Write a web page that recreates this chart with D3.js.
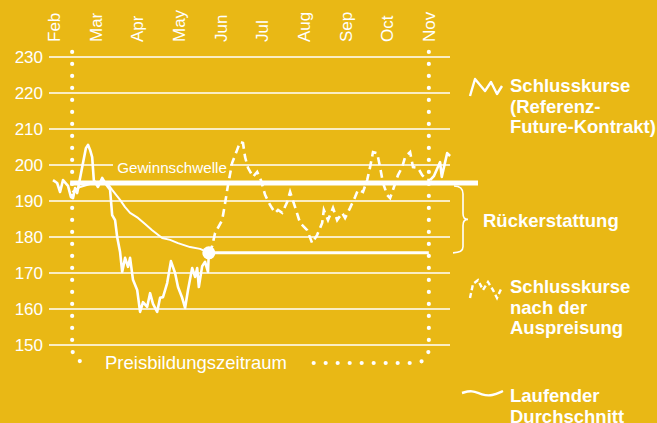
<!DOCTYPE html>
<html>
<head>
<meta charset="utf-8">
<script src="https://cdn.jsdelivr.net/npm/d3@7"></script>
<style>
  html, body { margin: 0; padding: 0; background: #E9B815; }
  svg { display: block; font-family: "Liberation Sans", Arial, Helvetica, sans-serif; }
</style>
</head>
<body>
<svg id="chart" width="657" height="423"></svg>
<script>
// ---------- data ----------
const months = ["Feb","Mar","Apr","May","Jun","Jul","Aug","Sep","Oct","Nov"];
const yTicks = [150,160,170,180,190,200,210,220,230];

// closing prices (reference future contract) before / during the pricing period, solid
const closeSolidX = [0.00,0.10,0.17,0.24,0.36,0.43,0.48,0.53,0.58,0.70,0.79,0.84,0.89,0.94,0.98,1.08,1.18,1.25,1.32,1.37,1.42,1.49,1.54,1.61,1.66,1.73,1.80,1.85,1.92,2.02,2.09,2.16,2.26,2.33,2.40,2.50,2.57,2.64,2.74,2.83,2.93,3.00,3.10,3.17,3.24,3.34,3.41,3.46,3.50,3.58,3.65,3.72,3.74];
const closeSolidY = [195.8,195.0,192.5,195.8,194.2,191.1,190.8,193.6,192.2,199.4,204.7,205.6,204.2,202.2,195.8,193.9,196.4,195.0,193.9,193.1,186.1,184.7,180.0,175.8,170.3,174.2,171.7,174.2,168.1,165.3,159.2,161.9,160.6,164.4,161.4,159.2,163.1,163.3,167.2,173.3,170.0,166.1,163.1,160.3,165.3,171.4,168.9,171.4,166.1,171.9,173.1,170.3,175.6];

// closing prices after pricing-out, dashed
const closeDashX = [3.74,3.82,3.89,4.06,4.13,4.20,4.30,4.42,4.49,4.56,4.61,4.68,4.80,4.90,4.99,5.09,5.21,5.33,5.40,5.50,5.62,5.69,5.81,5.93,6.10,6.22,6.34,6.46,6.50,6.60,6.72,6.82,6.94,7.01,7.13,7.25,7.32,7.44,7.54,7.61,7.68,7.78,7.85,7.92,8.02,8.09,8.16,8.28,8.38,8.45,8.57,8.64,8.76,8.86,8.98,9.05];
const closeDashY = [175.6,177.5,181.1,184.7,189.4,194.4,200.6,204.2,206.4,206.1,202.2,199.2,196.7,198.1,195.8,191.7,188.9,186.7,187.5,186.7,189.7,192.5,188.3,183.9,181.9,178.3,180.6,183.9,187.5,184.7,188.1,184.7,186.7,185.3,188.1,191.1,193.1,192.5,195.8,199.4,203.6,203.3,199.4,195.0,191.7,190.8,193.1,197.2,199.4,202.2,203.6,199.4,199.2,197.2,195.8,195.8];

// closing prices after the period, solid
const closeEndX = [9.05,9.14,9.29,9.33,9.46,9.53];
const closeEndY = [195.8,196.9,200.8,196.7,203.3,202.5];

// running average
const avgX = [0.46,0.65,0.89,1.13,1.30,1.42,1.61,1.73,1.85,2.04,2.21,2.38,2.62,2.81,3.00,3.29,3.53,3.74];
const avgY = [192.5,193.9,194.7,195.0,195.0,193.1,190.3,188.3,186.7,185.3,183.6,181.9,179.7,179.2,178.3,177.2,176.7,175.6];

const breakEven = 195;        // Gewinnschwelle
const finalAverage = 175.6;   // average at the end
const periodStart = 0.46, periodEnd = 9.02;

const legendItems = [
  {lines:["Schlusskurse","(Referenz-","Future-Kontrakt)"], icon:"solid"},
  {lines:["Schlusskurse","nach der","Auspreisung"], icon:"dashed"},
  {lines:["Laufender","Durchschnitt"], icon:"avg"}
];

// ---------- drawing ----------
const W = "#ffffff";
const svg = d3.select("#chart");
const x = d3.scaleLinear().domain([0, 9]).range([53, 428]);
const y = d3.scaleLinear().domain([150, 230]).range([345, 57]);
const gridX0 = 49, gridX1 = 450;

// gridlines
svg.append("g").selectAll("line").data(yTicks).join("line")
  .attr("x1", gridX0).attr("x2", gridX1)
  .attr("y1", d => y(d)).attr("y2", d => y(d))
  .attr("stroke", W).attr("stroke-width", 1.6);

// y tick labels
svg.append("g").selectAll("text").data(yTicks).join("text")
  .attr("x", 43).attr("y", d => y(d)).attr("dy", "0.35em")
  .attr("text-anchor", "end").attr("fill", W).attr("font-size", 17)
  .text(d => d);

// month labels (rotated)
svg.append("g").selectAll("text").data(months).join("text")
  .attr("transform", (d, i) => `translate(${x(i)},42) rotate(-90)`)
  .attr("dy", "0.42em").attr("fill", W).attr("font-size", 17)
  .text(d => d);

// dotted pricing-period frame
const xs = x(periodStart), xe = x(periodEnd), yTop = y(231.4), yBot = 363;
svg.append("path")
  .attr("d", `M${xs},${yTop} V${yBot - 16} Q${xs},${yBot} ${xs + 18},${yBot}`)
  .attr("fill", "none").attr("stroke", W).attr("stroke-width", 4.2)
  .attr("stroke-linecap", "round").attr("stroke-dasharray", "0,12");
svg.append("path")
  .attr("d", `M${xe},${yTop} V${yBot - 16} Q${xe},${yBot} ${xe - 16},${yBot} H306`)
  .attr("fill", "none").attr("stroke", W).attr("stroke-width", 4.2)
  .attr("stroke-linecap", "round").attr("stroke-dasharray", "0,12");
svg.append("text").attr("x", 105).attr("y", 369)
  .attr("fill", W).attr("font-size", 18.5).text("Preisbildungszeitraum");

// break-even line + label
svg.append("line").attr("x1", xs - 2).attr("x2", 478)
  .attr("y1", y(breakEven)).attr("y2", y(breakEven))
  .attr("stroke", W).attr("stroke-width", 5);
const lbl = svg.append("g");
lbl.append("rect").attr("x", 113).attr("y", y(200) - 3).attr("width", 117).attr("height", 6)
  .attr("fill", "#E9B815");
lbl.append("text").attr("x", 172).attr("y", 173).attr("text-anchor", "middle")
  .attr("fill", W).attr("font-size", 15.2).text("Gewinnschwelle");

// line generator
const line = d3.line().x(d => x(d[0])).y(d => y(d[1]));
const zip = (a, b) => a.map((v, i) => [v, b[i]]);

// running average
svg.append("path").datum(zip(avgX, avgY)).attr("d", line)
  .attr("fill", "none").attr("stroke", W).attr("stroke-width", 2).attr("stroke-linejoin", "round");

// closing prices
svg.append("path").datum(zip(closeSolidX, closeSolidY)).attr("d", line)
  .attr("fill", "none").attr("stroke", W).attr("stroke-width", 2.6).attr("stroke-linejoin", "round");
svg.append("path").datum(zip(closeDashX, closeDashY)).attr("d", line)
  .attr("fill", "none").attr("stroke", W).attr("stroke-width", 2.6)
  .attr("stroke-dasharray", "8,5");
svg.append("path").datum(zip(closeEndX, closeEndY)).attr("d", line)
  .attr("fill", "none").attr("stroke", W).attr("stroke-width", 2.6).attr("stroke-linejoin", "round");

// final average level line + dot
svg.append("line").attr("x1", x(avgX[avgX.length - 1])).attr("x2", xe)
  .attr("y1", y(finalAverage)).attr("y2", y(finalAverage))
  .attr("stroke", W).attr("stroke-width", 3);
svg.append("circle").attr("cx", x(avgX[avgX.length - 1])).attr("cy", y(finalAverage))
  .attr("r", 6.5).attr("fill", W);

// brace for refund
const bT = y(breakEven) + 3, bB = y(finalAverage), bM = (bT + bB) / 2, bx = 463;
svg.append("path")
  .attr("d", `M${bx - 9},${bT} Q${bx},${bT} ${bx},${bT + 8} V${bM - 6} Q${bx},${bM} ${bx + 5},${bM} Q${bx},${bM} ${bx},${bM + 6} V${bB - 6} Q${bx},${bB} ${bx - 10},${bB}`)
  .attr("fill", "none").attr("stroke", W).attr("stroke-width", 1.6);
svg.append("text").attr("x", 483).attr("y", 227).attr("fill", W)
  .attr("font-size", 18.5).attr("font-weight", "bold").text("Rückerstattung");

// legend
const legY = [92, 293, 402];
legendItems.forEach((it, k) => {
  const t = svg.append("text").attr("x", 510).attr("y", legY[k]).attr("fill", W)
    .attr("font-size", 18.5).attr("font-weight", "bold");
  it.lines.forEach((s, j) => t.append("tspan").attr("x", 510).attr("dy", j ? 20.5 : 0).text(s));
});
const iconLine = d3.line();
svg.append("path").attr("d", iconLine([[470,96],[475,79],[485,91],[491,82],[497,94],[502,86]]))
  .attr("fill", "none").attr("stroke", W).attr("stroke-width", 2.4).attr("stroke-linejoin", "round");
svg.append("path").attr("d", iconLine([[470,298],[473,284],[478,280],[483,290],[488,282],[493,290],[497,298],[502,287]]))
  .attr("fill", "none").attr("stroke", W).attr("stroke-width", 2.4).attr("stroke-dasharray", "5,3");
svg.append("path").attr("d", d3.line().curve(d3.curveBasis)([[462,393],[472,390],[482,395],[492,396],[503,391]]))
  .attr("fill", "none").attr("stroke", W).attr("stroke-width", 2.4);
</script>
</body>
</html>
